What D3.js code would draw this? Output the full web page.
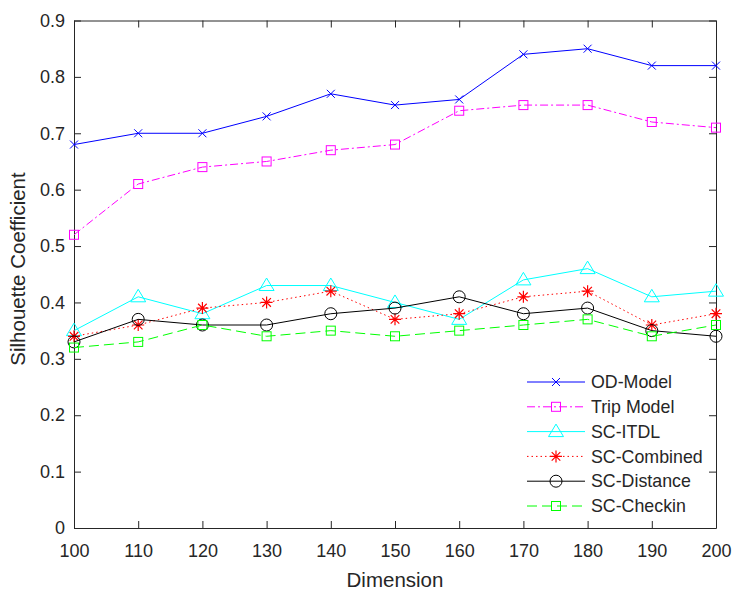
<!DOCTYPE html>
<html>
<head>
<meta charset="utf-8">
<script src="https://cdn.jsdelivr.net/npm/d3@7"></script>
<style>
  body { margin: 0; background: #fff; }
  text { font-family: "Liberation Sans", Arial, sans-serif; fill: #262626; }
</style>
</head>
<body>
<div id="chart"></div>
<script>
const dimensions = [100, 110, 120, 130, 140, 150, 160, 170, 180, 190, 200];
const yTicks = [0, 0.1, 0.2, 0.3, 0.4, 0.5, 0.6, 0.7, 0.8, 0.9];

const odModel = [0.68, 0.70, 0.70, 0.73, 0.77, 0.75, 0.76, 0.84, 0.85, 0.82, 0.82];
const tripModel = [0.52, 0.61, 0.64, 0.65, 0.67, 0.68, 0.74, 0.75, 0.75, 0.72, 0.71];
const scItdl = [0.35, 0.41, 0.38, 0.43, 0.43, 0.40, 0.37, 0.44, 0.46, 0.41, 0.42];
const scCombined = [0.34, 0.36, 0.39, 0.40, 0.42, 0.37, 0.38, 0.41, 0.42, 0.36, 0.38];
const scDistance = [0.33, 0.37, 0.36, 0.36, 0.38, 0.39, 0.41, 0.38, 0.39, 0.35, 0.34];
const scCheckin = [0.32, 0.33, 0.36, 0.34, 0.35, 0.34, 0.35, 0.36, 0.37, 0.34, 0.36];

const series = [
  { name: 'OD-Model', values: odModel, color: '#0000ff', dash: null, marker: 'x' },
  { name: 'Trip Model', values: tripModel, color: '#ff00ff', dash: '8,3,2,3', marker: 'square' },
  { name: 'SC-ITDL', values: scItdl, color: '#00ffff', dash: null, marker: 'triangle' },
  { name: 'SC-Combined', values: scCombined, color: '#ff0000', dash: '1.5,3', marker: 'star' },
  { name: 'SC-Distance', values: scDistance, color: '#000000', dash: null, marker: 'circle' },
  { name: 'SC-Checkin', values: scCheckin, color: '#00ff00', dash: '10,5', marker: 'square' }
];

const width = 747;
const height = 605;
const margin = { top: 20.5, right: 31, bottom: 77, left: 74 };
const graphWidth = width - margin.left - margin.right;
const graphHeight = height - margin.top - margin.bottom;

const svg = d3.select('#chart')
  .append('svg')
  .attr('width', width)
  .attr('height', height);

const g = svg.append('g')
  .attr('transform', 'translate(' + margin.left + ',' + margin.top + ')');

const xScale = d3.scaleLinear().domain([100, 200]).range([0, graphWidth]);
const yScale = d3.scaleLinear().domain([0, 0.9]).range([graphHeight, 0]);

// AXES
const axisColor = '#262626';
const styleAxis = sel => {
  sel.select('.domain').attr('stroke', axisColor).attr('stroke-width', 1);
  sel.selectAll('.tick line').attr('stroke', axisColor);
  sel.selectAll('.tick text').style('font-size', '18px').attr('fill', axisColor);
};

g.append('g')
  .attr('transform', 'translate(0,' + graphHeight + ')')
  .call(d3.axisBottom(xScale).tickValues(dimensions).tickSizeInner(-7).tickSizeOuter(0).tickPadding(16).tickFormat(d3.format('d')))
  .call(styleAxis);

g.append('g')
  .call(d3.axisTop(xScale).tickValues(dimensions).tickSizeInner(-7).tickSizeOuter(0).tickFormat(''))
  .call(styleAxis);

g.append('g')
  .call(d3.axisLeft(yScale).tickValues(yTicks).tickSizeInner(-7).tickSizeOuter(0).tickPadding(9).tickFormat(d => d === 0 ? '0' : d3.format('.1f')(d)))
  .call(styleAxis);

g.append('g')
  .attr('transform', 'translate(' + graphWidth + ',0)')
  .call(d3.axisRight(yScale).tickValues(yTicks).tickSizeInner(-7).tickSizeOuter(0).tickFormat(''))
  .call(styleAxis);

// AXIS LABELS
svg.append('text')
  .attr('x', margin.left + graphWidth / 2)
  .attr('y', 587)
  .attr('text-anchor', 'middle')
  .style('font-size', '20.5px')
  .text('Dimension');

svg.append('text')
  .attr('transform', 'translate(25,269) rotate(-90)')
  .attr('text-anchor', 'middle')
  .style('font-size', '20.5px')
  .text('Silhouette Coefficient');

// MARKERS
const drawMarker = (sel, type, color) => {
  if (type === 'x') {
    sel.append('path').attr('d', 'M-4,-4L4,4M-4,4L4,-4')
      .attr('stroke', color).attr('fill', 'none');
  } else if (type === 'square') {
    sel.append('rect').attr('x', -4.5).attr('y', -4.5).attr('width', 9).attr('height', 9)
      .attr('stroke', color).attr('fill', 'none');
  } else if (type === 'triangle') {
    sel.append('path').attr('d', 'M0,-7.5L7.5,5L-7.5,5Z')
      .attr('stroke', color).attr('fill', 'none');
  } else if (type === 'star') {
    sel.append('path').attr('d', 'M0,-6L0,6M-6,0L6,0M-4.3,-4.3L4.3,4.3M-4.3,4.3L4.3,-4.3')
      .attr('stroke', color).attr('stroke-width', 1.2).attr('fill', 'none');
  } else if (type === 'circle') {
    sel.append('circle').attr('r', 6)
      .attr('stroke', color).attr('fill', 'none');
  }
};

// LINES
const line = d3.line()
  .x((d, i) => xScale(dimensions[i]))
  .y(d => yScale(d));

series.forEach(s => {
  g.append('path')
    .datum(s.values)
    .attr('fill', 'none')
    .attr('stroke', s.color)
    .attr('stroke-width', 1)
    .attr('stroke-dasharray', s.dash)
    .attr('d', line);

  s.values.forEach((v, i) => {
    const m = g.append('g')
      .attr('transform', 'translate(' + xScale(dimensions[i]) + ',' + yScale(v) + ')');
    drawMarker(m, s.marker, s.color);
  });
});

// LEGEND
const legend = svg.append('g').attr('transform', 'translate(527,382)');
series.forEach((s, i) => {
  const row = legend.append('g').attr('transform', 'translate(0,' + (i * 24.8) + ')');
  row.append('line')
    .attr('x1', 0).attr('x2', 58)
    .attr('stroke', s.color)
    .attr('stroke-dasharray', s.dash);
  const m = row.append('g').attr('transform', 'translate(29,0)');
  drawMarker(m, s.marker, s.color);
  row.append('text')
    .attr('x', 64)
    .attr('dy', '0.35em')
    .style('font-size', '17.8px')
    .attr('fill', '#000')
    .text(s.name);
});
</script>
</body>
</html>
